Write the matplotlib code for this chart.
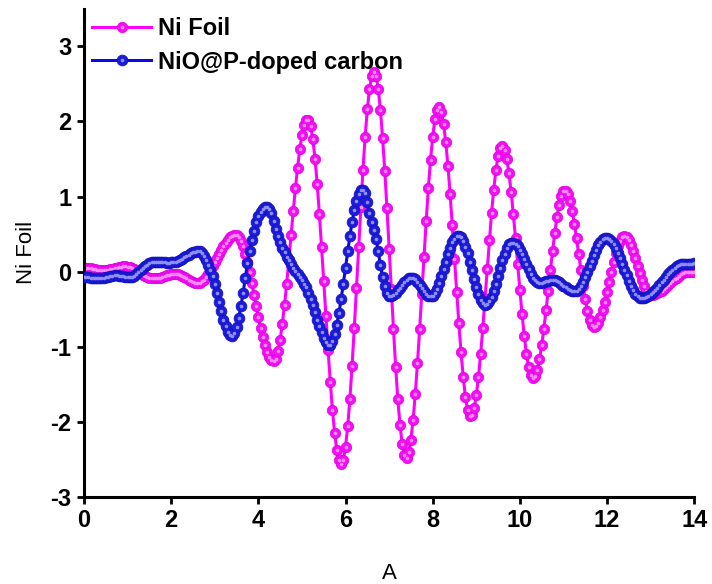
import numpy as np
import matplotlib
matplotlib.use('Agg')
import matplotlib.pyplot as plt
from matplotlib.legend_handler import HandlerTuple

plt.rcParams['font.family'] = ['Liberation Sans', 'DejaVu Sans']
plt.rcParams['axes.unicode_minus'] = False

# k grid (0 to 14, step 0.05)
k = np.round(np.arange(281) * 0.05, 2)

ni_foil = np.array([
    0.050, 0.049, 0.047, 0.043, 0.038, 0.032, 0.028, 0.024, 0.021, 0.020, 0.021, 0.025, 0.030, 0.037, 0.045, 0.053, 0.060, 0.065, 0.069, 0.070,
    0.068, 0.061, 0.050, 0.035, 0.018, 0.000, -0.020, -0.038, -0.055, -0.070, -0.081, -0.088, -0.090, -0.089, -0.084, -0.078, -0.069, -0.060, -0.051, -0.042,
    -0.036, -0.032, -0.030, -0.033, -0.041, -0.055, -0.071, -0.090, -0.109, -0.125, -0.139, -0.147, -0.150, -0.145, -0.130, -0.106, -0.072, -0.030, 0.017, 0.070,
    0.124, 0.181, 0.238, 0.292, 0.343, 0.388, 0.427, 0.456, 0.477, 0.488, 0.488, 0.463, 0.413, 0.337, 0.239, 0.122, -0.009, -0.154, -0.305, -0.456,
    -0.604, -0.744, -0.866, -0.975, -1.070, -1.136, -1.176, -1.190, -1.157, -1.061, -0.905, -0.695, -0.444, -0.161, 0.161, 0.485, 0.804, 1.109, 1.385, 1.627,
    1.814, 1.948, 2.018, 2.022, 1.938, 1.762, 1.504, 1.166, 0.771, 0.333, -0.125, -0.592, -1.047, -1.468, -1.843, -2.144, -2.372, -2.512, -2.560, -2.503,
    -2.334, -2.061, -1.697, -1.255, -0.756, -0.223, 0.323, 0.856, 1.355, 1.797, 2.161, 2.434, 2.603, 2.660, 2.602, 2.432, 2.156, 1.784, 1.346, 0.851,
    0.308, -0.235, -0.765, -1.265, -1.702, -2.040, -2.293, -2.443, -2.478, -2.407, -2.237, -1.975, -1.633, -1.222, -0.769, -0.292, 0.196, 0.669, 1.110, 1.490,
    1.795, 2.026, 2.157, 2.188, 2.122, 1.963, 1.724, 1.404, 1.035, 0.615, 0.174, -0.265, -0.690, -1.075, -1.398, -1.663, -1.837, -1.922, -1.915, -1.821,
    -1.648, -1.401, -1.099, -0.744, -0.361, 0.032, 0.417, 0.778, 1.093, 1.350, 1.542, 1.652, 1.678, 1.626, 1.502, 1.308, 1.058, 0.764, 0.442, 0.096,
    -0.243, -0.564, -0.851, -1.090, -1.269, -1.382, -1.420, -1.391, -1.306, -1.169, -0.983, -0.762, -0.516, -0.251, 0.017, 0.275, 0.511, 0.724, 0.889, 1.008,
    1.070, 1.076, 1.031, 0.941, 0.806, 0.637, 0.443, 0.234, 0.021, -0.186, -0.369, -0.524, -0.642, -0.715, -0.740, -0.725, -0.680, -0.608, -0.512, -0.398,
    -0.270, -0.135, 0.000, 0.128, 0.242, 0.338, 0.410, 0.455, 0.470, 0.457, 0.418, 0.356, 0.275, 0.181, 0.080, -0.021, -0.115, -0.196, -0.258, -0.297,
    -0.310, -0.308, -0.301, -0.289, -0.274, -0.255, -0.233, -0.208, -0.182, -0.155, -0.128, -0.102, -0.078, -0.055, -0.036, -0.021, -0.009, -0.002, 0.000, 0.000,
    0.000,
])

nio_p_carbon = np.array([
    -0.070, -0.072, -0.075, -0.078, -0.081, -0.083, -0.085, -0.085, -0.083, -0.078, -0.072, -0.065, -0.058, -0.053, -0.050, -0.050, -0.052, -0.057, -0.063, -0.067,
    -0.070, -0.070, -0.065, -0.052, -0.032, -0.008, 0.020, 0.048, 0.073, 0.095, 0.112, 0.124, 0.130, 0.132, 0.131, 0.128, 0.125, 0.122, 0.120, 0.120,
    0.122, 0.126, 0.132, 0.142, 0.155, 0.171, 0.189, 0.207, 0.226, 0.243, 0.256, 0.265, 0.270, 0.270, 0.250, 0.210, 0.150, 0.090, 0.020, -0.060,
    -0.160, -0.290, -0.410, -0.530, -0.640, -0.730, -0.800, -0.845, -0.855, -0.820, -0.740, -0.620, -0.460, -0.280, -0.080, 0.110, 0.280, 0.420, 0.540, 0.660,
    0.740, 0.800, 0.840, 0.860, 0.860, 0.840, 0.780, 0.680, 0.570, 0.470, 0.390, 0.320, 0.260, 0.200, 0.150, 0.100, 0.050, 0.010, -0.030, -0.070,
    -0.110, -0.160, -0.210, -0.280, -0.360, -0.450, -0.540, -0.640, -0.730, -0.810, -0.880, -0.940, -0.975, -0.975, -0.924, -0.835, -0.705, -0.548, -0.363, -0.159,
    0.055, 0.269, 0.473, 0.658, 0.815, 0.945, 1.034, 1.082, 1.090, 1.050, 0.930, 0.780, 0.660, 0.560, 0.440, 0.270, 0.090, -0.070, -0.190, -0.280,
    -0.330, -0.324, -0.308, -0.282, -0.250, -0.213, -0.175, -0.139, -0.111, -0.091, -0.081, -0.083, -0.101, -0.132, -0.173, -0.219, -0.262, -0.297, -0.322, -0.330,
    -0.318, -0.282, -0.225, -0.150, -0.062, 0.035, 0.134, 0.230, 0.317, 0.389, 0.441, 0.472, 0.479, 0.459, 0.411, 0.334, 0.243, 0.135, 0.020, -0.095,
    -0.203, -0.294, -0.371, -0.419, -0.439, -0.431, -0.396, -0.337, -0.257, -0.162, -0.057, 0.050, 0.150, 0.240, 0.313, 0.363, 0.388, 0.387, 0.369, 0.336,
    0.288, 0.231, 0.167, 0.100, 0.034, -0.026, -0.078, -0.117, -0.142, -0.150, -0.149, -0.140, -0.130, -0.120, -0.111, -0.110, -0.114, -0.124, -0.141, -0.162,
    -0.185, -0.208, -0.229, -0.246, -0.256, -0.260, -0.252, -0.228, -0.189, -0.136, -0.073, -0.003, 0.072, 0.148, 0.221, 0.288, 0.349, 0.396, 0.429, 0.447,
    0.449, 0.435, 0.408, 0.366, 0.312, 0.250, 0.181, 0.104, 0.027, -0.050, -0.123, -0.190, -0.245, -0.293, -0.326, -0.345, -0.350, -0.347, -0.338, -0.323,
    -0.303, -0.277, -0.248, -0.216, -0.181, -0.144, -0.106, -0.069, -0.034, -0.001, 0.028, 0.054, 0.073, 0.088, 0.097, 0.100, 0.103, 0.105, 0.107, 0.108,
    0.110,
])

series_labels = ['Ni Foil', 'NiO@P-doped carbon']
x_ticks = [0, 2, 4, 6, 8, 10, 12, 14]
y_ticks = [-3, -2, -1, 0, 1, 2, 3]

fig = plt.figure(figsize=(7.12, 5.84), dpi=100)
ax = fig.add_axes([0.118, 0.149, 0.857, 0.836])

# Ni Foil (magenta spheres)
l1, = ax.plot(k, ni_foil, '-', color='#ff00ff', lw=2.2, marker='o', ms=7.5,
              mfc='#f210f2', mec='#e000e0', mew=0.5, zorder=2)
h1, = ax.plot(k, ni_foil, ls='none', marker='o', ms=2.6, mfc='#ff8cff',
              mec='none', zorder=2.1)

# NiO@P-doped carbon (blue spheres)
l2, = ax.plot(k, nio_p_carbon, '-', color='#0a0ae6', lw=2.2, marker='o', ms=7.8,
              mfc='#1c1cd8', mec='#1010c0', mew=0.5, zorder=3)
h2, = ax.plot(k, nio_p_carbon, ls='none', marker='o', ms=2.6, mfc='#8e8eff',
              mec='none', zorder=3.1)

ax.set_xlim(0, 14)
ax.set_ylim(-3, 3.5)
ax.set_xticks(x_ticks)
ax.set_yticks(y_ticks)

for s in ['top', 'right']:
    ax.spines[s].set_visible(False)
for s in ['left', 'bottom']:
    ax.spines[s].set_linewidth(2.2)

ax.tick_params(direction='out', length=5, width=2, labelsize=17, pad=4)
for lab in ax.get_xticklabels() + ax.get_yticklabels():
    lab.set_fontweight('bold')

ax.set_xlabel('A', fontsize=16, labelpad=22)
ax.set_ylabel('Ni Foil', fontsize=16, labelpad=10)

leg = ax.legend([(l1, h1), (l2, h2)], series_labels,
                handler_map={tuple: HandlerTuple(ndivide=1, pad=0)},
                loc='upper left', bbox_to_anchor=(0.0, 1.0), frameon=False,
                prop={'weight': 'bold', 'size': 17}, handlelength=2.5,
                handletextpad=0.3, borderaxespad=0.2, borderpad=0.15,
                labelspacing=0.45, numpoints=1)

fig.savefig('out.png', dpi=100)
